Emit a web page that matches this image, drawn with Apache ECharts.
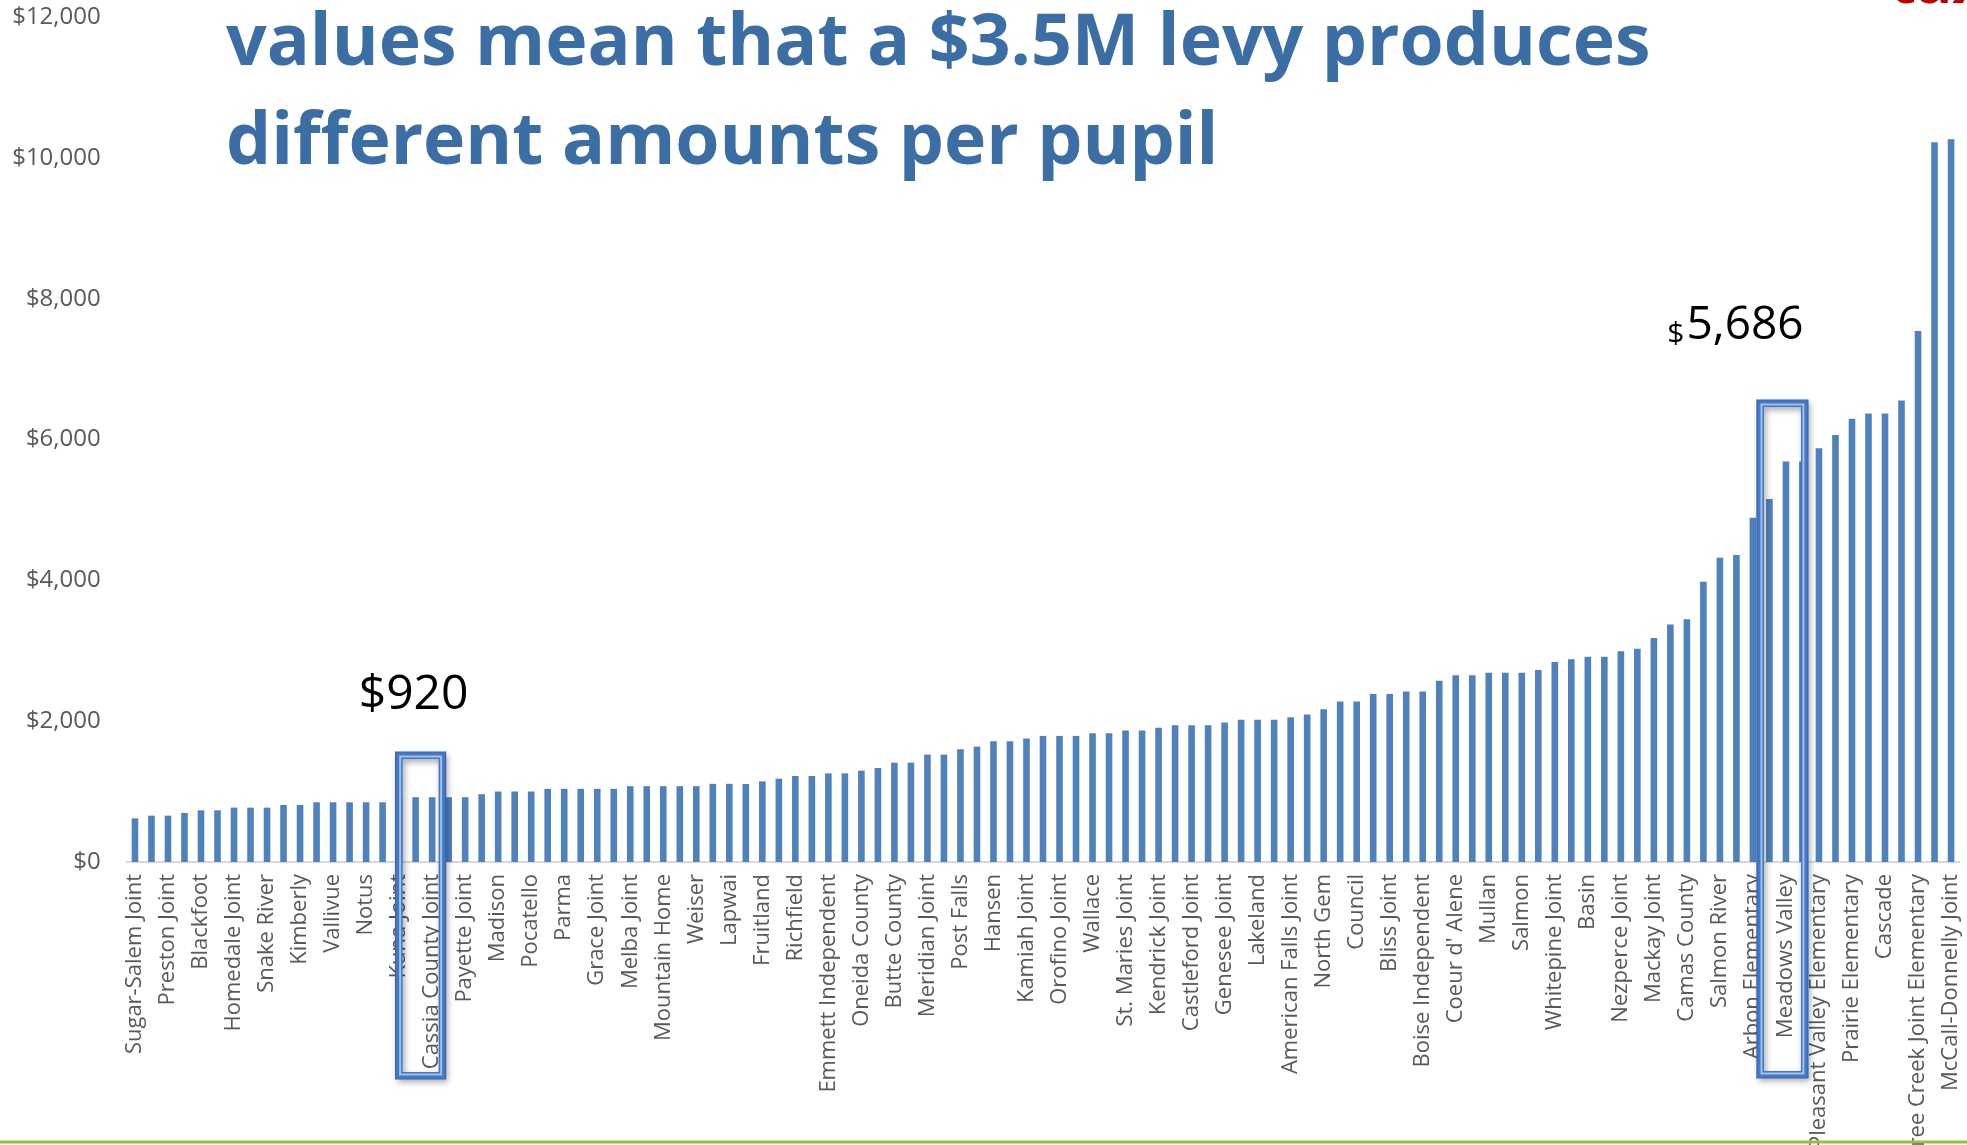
<!DOCTYPE html>
<html>
<head>
<meta charset="utf-8">
<script src="https://cdn.jsdelivr.net/npm/echarts@6/dist/echarts.min.js"></script>
<style>
  html, body { margin: 0; padding: 0; background: #ffffff; }
  #chart { width: 1967px; height: 1145px; }
</style>
</head>
<body>
<div id="chart"></div>
<script>
// Districts whose names are printed under the axis (every other bar)
const labeledDistricts = [
  'Sugar-Salem Joint', 'Preston Joint', 'Blackfoot', 'Homedale Joint', 'Snake River',
  'Kimberly', 'Vallivue', 'Notus', 'Kuna Joint', 'Cassia County Joint',
  'Payette Joint', 'Madison', 'Pocatello', 'Parma', 'Grace Joint',
  'Melba Joint', 'Mountain Home', 'Weiser', 'Lapwai', 'Fruitland',
  'Richfield', 'Emmett Independent', 'Oneida County', 'Butte County', 'Meridian Joint',
  'Post Falls', 'Hansen', 'Kamiah Joint', 'Orofino Joint', 'Wallace',
  'St. Maries Joint', 'Kendrick Joint', 'Castleford Joint', 'Genesee Joint', 'Lakeland',
  'American Falls Joint', 'North Gem', 'Council', 'Bliss Joint', 'Boise Independent',
  "Coeur d' Alene", 'Mullan', 'Salmon', 'Whitepine Joint', 'Basin',
  'Nezperce Joint', 'Mackay Joint', 'Camas County', 'Salmon River', 'Arbon Elementary',
  'Meadows Valley', 'Pleasant Valley Elementary', 'Prairie Elementary', 'Cascade',
  'Three Creek Joint Elementary', 'McCall-Donnelly Joint'
];

// Districts in between whose names the axis skips
const otherDistricts = [
  'Idaho Falls', 'Bonneville Joint', 'Jefferson County Joint', 'Nampa', 'Caldwell',
  'Twin Falls', 'Jerome Joint', 'Minidoka County Joint', 'Lake Pend Oreille', 'Lewiston Independent',
  'Moscow', 'Shelley Joint', 'Firth', 'Aberdeen', 'Rockland',
  'Marsh Valley Joint', 'Soda Springs Joint', 'Bear Lake County', 'West Side Joint', 'Teton County',
  'Fremont County Joint', 'Ririe Joint', 'West Jefferson', 'Challis Joint', 'Gooding Joint',
  'Wendell', 'Hagerman Joint', 'Buhl Joint', 'Filer', 'Murtaugh Joint',
  'Valley', 'Glenns Ferry Joint', 'Bruneau-Grand View Joint', 'Marsing Joint', 'Wilder',
  'New Plymouth', 'Midvale', 'Cambridge', 'Horseshoe Bend', 'Garden Valley',
  'Cottonwood Joint', 'Highland Joint', 'Potlatch', 'Troy', 'Plummer-Worley Joint',
  'Kellogg Joint', 'Boundary County', 'West Bonner County', 'Blaine County', 'Swan Valley Elementary',
  'Culdesac Joint', 'Mountain View', 'South Lemhi', 'Dietrich', 'Shoshone Joint'
];

// Levy dollars per pupil, sorted low to high (same order as the interleaved names)
const perPupil = [
  620, 658, 658, 696, 734, 734, 772, 772, 772, 810,
  810, 848, 848, 848, 848, 848, 920, 920, 920, 920,
  920, 963, 1001, 1001, 1001, 1039, 1039, 1039, 1039, 1039,
  1077, 1077, 1077, 1077, 1077, 1110, 1110, 1107, 1145, 1183,
  1221, 1221, 1259, 1259, 1297, 1335, 1411, 1411, 1525, 1525,
  1601, 1639, 1715, 1715, 1753, 1791, 1791, 1791, 1829, 1829,
  1867, 1867, 1905, 1943, 1943, 1943, 1981, 2019, 2019, 2019,
  2057, 2095, 2171, 2280, 2280, 2385, 2385, 2423, 2423, 2575,
  2651, 2651, 2689, 2689, 2689, 2727, 2840, 2878, 2916, 2916,
  2992, 3030, 3182, 3372, 3447, 3979, 4320, 4358, 4889, 5155,
  5686, 5686, 5875, 6065, 6293, 6368, 6368, 6554, 7540, 10220,
  10264
];

const titleLines = [
  'values mean that a $3.5M levy produces',
  'different amounts per pupil'
];

// The two districts singled out with a box and a callout
const lowDistrict = 'Cassia County Joint';
const lowBoxFrom = 'Kuna Joint';
const highDistrict = 'Meadows Valley';

// Interleave named / skipped districts into one category list
const districts = [];
labeledDistricts.forEach((name, i) => {
  districts.push(name);
  if (i < otherDistricts.length) districts.push(otherDistricts[i]);
});

const money = v => '$' + Math.round(v).toLocaleString('en-US');

const chart = echarts.init(document.getElementById('chart'), null, { renderer: 'canvas' });

chart.setOption({
  animation: false,
  backgroundColor: '#ffffff',
  grid: {
    left: 126.7,
    right: 7.7,
    top: 17,
    bottom: 283,
    containLabel: false,
    outerBoundsMode: 'none'
  },
  xAxis: {
    type: 'category',
    data: districts,
    boundaryGap: true,
    axisTick: { show: false },
    axisLine: { show: true, lineStyle: { color: '#D9D9D9', width: 2 } },
    axisLabel: {
      interval: 1,
      rotate: 90,
      margin: 12,
      fontSize: 22,
      fontFamily: '"Open Sans", sans-serif',
      color: '#595959'
    },
    splitLine: { show: false }
  },
  yAxis: {
    type: 'value',
    min: 0,
    max: 12000,
    interval: 2000,
    axisLine: { show: false },
    axisTick: { show: false },
    splitLine: { show: false },
    axisLabel: {
      margin: 26,
      fontSize: 24,
      fontFamily: '"Open Sans", sans-serif',
      color: '#595959',
      formatter: v => money(v)
    }
  },
  series: [{
    type: 'bar',
    data: perPupil,
    barWidth: '40%',
    itemStyle: { color: '#4F81BD' },
    silent: true
  }]
});

// Overlay: title, callouts and highlight boxes placed from the axis scales
function px(name) {
  return chart.convertToPixel({ xAxisIndex: 0 }, name);
}

const lowValue = perPupil[districts.indexOf(lowDistrict)];
const highValue = perPupil[districts.indexOf(highDistrict)];

// Outlined box; w/top/bottom give the outer edge of the frame
function highlightBox(cx, w, top, bottom) {
  const lw = 7;
  const left = cx - w / 2 + lw / 2;
  const t = top + lw / 2;
  const iw = w - lw;
  const ih = bottom - top - lw;
  return [
    {
      type: 'rect',
      z: 50,
      shape: { x: left, y: t, width: iw, height: ih },
      style: {
        fill: null,
        stroke: '#4677C2',
        lineWidth: lw,
        shadowBlur: 6,
        shadowColor: 'rgba(0,0,0,0.35)',
        shadowOffsetX: 2,
        shadowOffsetY: 3
      }
    },
    {
      type: 'rect',
      z: 51,
      shape: { x: left - lw / 2, y: t - lw / 2, width: iw + lw, height: ih + lw },
      style: { fill: null, stroke: '#3A66AD', lineWidth: 1.2 }
    },
    {
      type: 'rect',
      z: 52,
      shape: { x: left + 1, y: t + 1, width: iw - 2, height: ih - 2 },
      style: { fill: null, stroke: '#9CC3EE', lineWidth: 2 }
    }
  ];
}

const lowCx = (px(lowBoxFrom) + px(lowDistrict)) / 2 + 5;
const highCx = px(highDistrict) - 3.5;

const titleFont = 'bold 71.5px "Open Sans", sans-serif';

const graphics = [
  {
    type: 'text',
    z: 60,
    style: {
      text: titleLines[0],
      x: 226,
      y: 45,
      verticalAlign: 'middle',
      font: titleFont,
      fill: '#3B6EA5'
    }
  },
  {
    type: 'text',
    z: 60,
    style: {
      text: titleLines[1],
      x: 226,
      y: 144,
      verticalAlign: 'middle',
      font: titleFont,
      fill: '#3B6EA5'
    }
  },
  {
    type: 'text',
    z: 60,
    style: {
      text: 'tax',
      x: 1890,
      y: -14,
      verticalAlign: 'middle',
      font: 'bold 60px "Open Sans", sans-serif',
      fill: '#C00000'
    }
  },
  {
    type: 'text',
    z: 60,
    style: {
      text: money(lowValue),
      x: lowCx - 7,
      y: 695,
      align: 'center',
      verticalAlign: 'middle',
      font: '48px "Open Sans", sans-serif',
      fill: '#000000'
    }
  },
  {
    type: 'text',
    z: 60,
    style: {
      text: '{s|$}{n|' + money(highValue).slice(1) + '}',
      x: highCx - 47,
      y: 326,
      align: 'center',
      verticalAlign: 'middle',
      rich: {
        s: { font: '30px "Open Sans", sans-serif', fill: '#000000', verticalAlign: 'bottom', padding: [10, 2, 0, 0] },
        n: { font: '46px "Open Sans", sans-serif', fill: '#000000' }
      }
    }
  },
  {
    type: 'line',
    z: 60,
    shape: { x1: 0, y1: 1142, x2: 1967, y2: 1142 },
    style: { stroke: '#8CC63F', lineWidth: 3 }
  }
].concat(
  highlightBox(lowCx, 50, 752, 1079),
  highlightBox(highCx, 51, 400, 1078)
);

chart.setOption({ graphic: graphics });
</script>
</body>
</html>
